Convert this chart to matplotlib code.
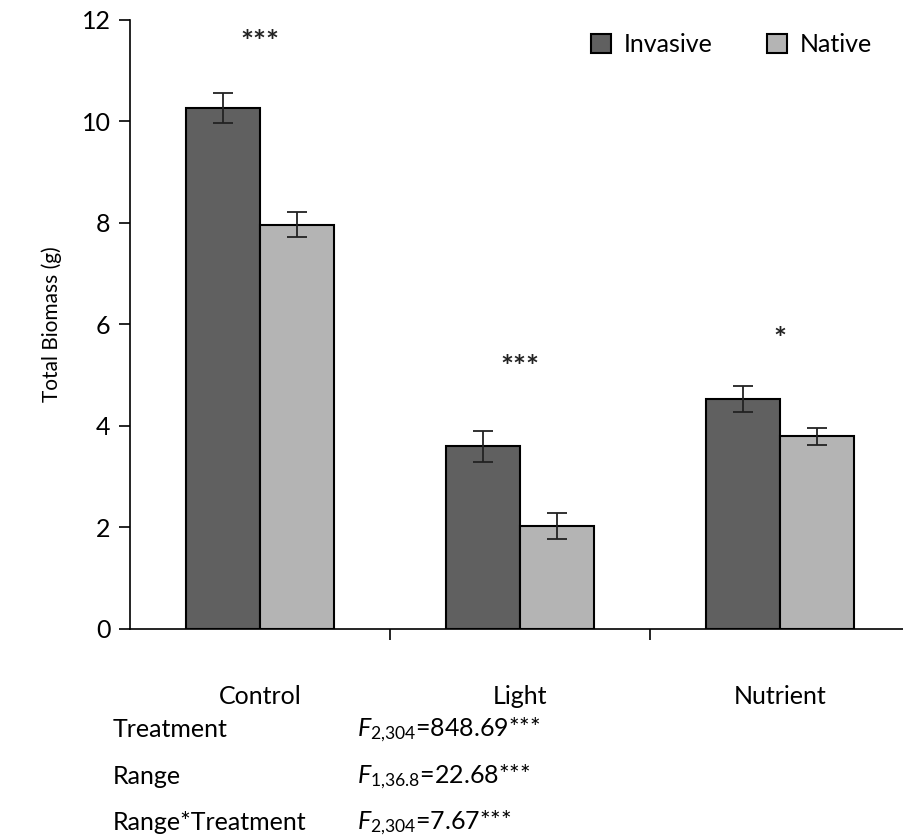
import numpy as np
import matplotlib.pyplot as plt

# Données
categories = ['Control', 'Light', 'Nutrient']
invasive = [10.27, 3.6, 4.53]
native = [7.97, 2.03, 3.8]
invasive_err = [0.3, 0.3, 0.25]
native_err = [0.25, 0.25, 0.17]
signif = ['***', '***', '*']
signif_y = [11.55, 5.15, 5.7]

stats_labels = ['Treatment', 'Range', 'Range*Treatment']
stats_values = [r'$F_{2{,}304}$=848.69***', r'$F_{1{,}36.8}$=22.68***', r'$F_{2{,}304}$=7.67***']

plt.rcParams['font.family'] = ['Lato', 'DejaVu Sans']
plt.rcParams['mathtext.fontset'] = 'custom'
plt.rcParams['mathtext.rm'] = 'Lato'
plt.rcParams['mathtext.it'] = 'Lato:italic'

fig = plt.figure(figsize=(9.04, 8.40), dpi=100)
ax = fig.add_axes([0.1438, 0.2512, 0.863, 0.725])

x = np.arange(len(categories))
w = 0.285
ekw = dict(elinewidth=1.3, capthick=1.3, ecolor='#222222')
ax.bar(x - w / 2, invasive, w, yerr=invasive_err, color='#606060', edgecolor='black',
       linewidth=1.5, capsize=7, error_kw=ekw, label='Invasive')
ax.bar(x + w / 2, native, w, yerr=native_err, color='#b4b4b4', edgecolor='black',
       linewidth=1.5, capsize=7, error_kw=ekw, label='Native')

for xi, s, ys in zip(x, signif, signif_y):
    ax.text(xi, ys, s, ha='center', va='center', fontsize=22, fontweight='bold', color='#222222')

ax.set_xlim(-0.5, 2.5)
ax.set_ylim(0, 12)
ax.set_yticks(range(0, 13, 2))
ax.set_xticks(x)
ax.set_xticklabels(categories, fontsize=18)
ax.set_xticks([0.5, 1.5], minor=True)
ax.tick_params(axis='x', which='major', length=0, pad=40)
ax.tick_params(axis='x', which='minor', length=8, width=1.2, direction='out')
ax.tick_params(axis='y', length=8, width=1.2, labelsize=18, pad=6)
ax.set_ylabel('Total Biomass (g)', fontsize=15, labelpad=14)
for side in ['top', 'right']:
    ax.spines[side].set_visible(False)
for side in ['left', 'bottom']:
    ax.spines[side].set_linewidth(1.2)

ax.legend(loc='upper left', bbox_to_anchor=(0.562, 1.015), ncol=2, frameon=False,
          fontsize=18, handlelength=0.8, handleheight=0.8, handletextpad=0.5,
          columnspacing=2.2)

for i, (lab, val) in enumerate(zip(stats_labels, stats_values)):
    yy = 0.131 - i * 0.055
    fig.text(0.125, yy, lab, fontsize=18, va='center')
    fig.text(0.395, yy, val, fontsize=18, va='center')

fig.savefig('out.png', dpi=100)
